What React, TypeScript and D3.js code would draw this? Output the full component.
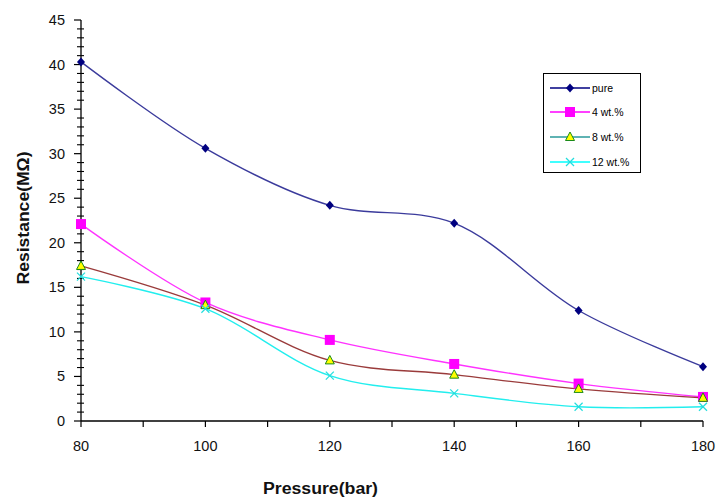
import React from "react";
import * as d3 from "d3";

const pressures = [80, 100, 120, 140, 160, 180];
const pure = [40.3, 30.6, 24.2, 22.2, 12.4, 6.1];
const wt4 = [22.1, 13.3, 9.1, 6.4, 4.2, 2.7];
const wt8 = [17.4, 13.0, 6.8, 5.2, 3.6, 2.6];
const wt12 = [16.2, 12.6, 5.1, 3.1, 1.6, 1.6];
const seriesNames = ["pure", "4 wt.%", "8 wt.%", "12 wt.%"];
const xTicks = [80, 100, 120, 140, 160, 180];
const yTicks = [0, 5, 10, 15, 20, 25, 30, 35, 40, 45];

const W = 719, H = 497;
const x = d3.scaleLinear().domain([80, 180]).range([81, 703]);
const y = d3.scaleLinear().domain([0, 45]).range([421, 20]);
const line = d3.line<[number, number]>().x(d => x(d[0])).y(d => y(d[1])).curve(d3.curveCatmullRom.alpha(0.5));

type Series = { name: string; values: number[]; color: string; legendColor: string; marker: string };
const series: Series[] = [
  { name: seriesNames[0], values: pure, color: "#3b3b9c", legendColor: "#000080", marker: "diamond" },
  { name: seriesNames[1], values: wt4, color: "#ff33ff", legendColor: "#ff00ff", marker: "square" },
  { name: seriesNames[2], values: wt8, color: "#9a3b3b", legendColor: "#2a9a9a", marker: "triangle" },
  { name: seriesNames[3], values: wt12, color: "#22eeee", legendColor: "#00ffff", marker: "x" },
];

function Marker({ type, cx, cy }: { type: string; cx: number; cy: number }) {
  if (type === "diamond") {
    return <path d={`M${cx},${cy - 4.5}L${cx + 4},${cy}L${cx},${cy + 4.5}L${cx - 4},${cy}Z`} fill="#000080" />;
  }
  if (type === "square") {
    return <rect x={cx - 5} y={cy - 5} width={10} height={10} fill="#ff00ff" />;
  }
  if (type === "triangle") {
    return <path d={`M${cx},${cy - 5}L${cx + 4.5},${cy + 3.5}L${cx - 4.5},${cy + 3.5}Z`} fill="#ffff00" stroke="#1a8a1a" strokeWidth={1} />;
  }
  return (
    <g stroke="#22dddd" strokeWidth={1.2}>
      <line x1={cx - 4} y1={cy - 4} x2={cx + 4} y2={cy + 4} />
      <line x1={cx - 4} y1={cy + 4} x2={cx + 4} y2={cy - 4} />
    </g>
  );
}

export default function App() {
  const minorY = d3.range(0, 46, 1).filter(v => v % 5 !== 0);
  const minorX = d3.range(90, 180, 20);
  const legendY = [88, 112, 137, 162];
  return (
    <svg width={W} height={H} style={{ position: "absolute", left: 0, top: 0 }} fontFamily="'Liberation Sans', Arial, sans-serif">
      <rect width={W} height={H} fill="#fff" />
      {/* axes */}
      <line x1={x(80)} x2={x(80)} y1={y(45)} y2={y(0)} stroke="#000" strokeWidth={1.3} />
      <line x1={x(80)} x2={x(180)} y1={y(0)} y2={y(0)} stroke="#000" strokeWidth={1.3} />
      {yTicks.map(t => (
        <g key={t}>
          <line x1={x(80) - 7} x2={x(80)} y1={y(t)} y2={y(t)} stroke="#000" strokeWidth={1.2} />
          <text x={65} y={y(t) + 5} textAnchor="end" fontSize={14.5} fill="#111">{t}</text>
        </g>
      ))}
      {minorY.map(t => (
        <line key={t} x1={x(80) - 4} x2={x(80) + 3} y1={y(t)} y2={y(t)} stroke="#000" strokeWidth={1.1} />
      ))}
      {xTicks.map(t => (
        <g key={t}>
          <line x1={x(t)} x2={x(t)} y1={y(0)} y2={y(0) + 6} stroke="#000" strokeWidth={1.2} />
          <text x={x(t)} y={451} textAnchor="middle" fontSize={14.5} fill="#111">{t}</text>
        </g>
      ))}
      {minorX.map(t => (
        <line key={t} x1={x(t)} x2={x(t)} y1={y(0)} y2={y(0) + 6} stroke="#000" strokeWidth={1.2} />
      ))}
      <text x={320.5} y={494} textAnchor="middle" fontSize={16} fontWeight="bold" fill="#111" textLength={115} lengthAdjust="spacingAndGlyphs">Pressure(bar)</text>
      <text transform={`translate(29,218) rotate(-90)`} textAnchor="middle" fontSize={16} fontWeight="bold" fill="#111" textLength={133} lengthAdjust="spacingAndGlyphs">Resistance(MΩ)</text>
      {/* series */}
      {series.map(s => (
        <path key={s.name} d={line(pressures.map((p, i) => [p, s.values[i]]) as [number, number][]) || ""} fill="none" stroke={s.color} strokeWidth={1.4} />
      ))}
      {series.map(s => (
        <g key={s.name + "m"}>
          {pressures.map((p, i) => <Marker key={p} type={s.marker} cx={x(p)} cy={y(s.values[i])} />)}
        </g>
      ))}
      {/* legend */}
      <rect x={543.5} y={73.5} width={97} height={99} fill="#fff" stroke="#000" strokeWidth={1} />
      {series.map((s, i) => (
        <g key={s.name + "l"}>
          <line x1={550} x2={590} y1={legendY[i]} y2={legendY[i]} stroke={s.legendColor} strokeWidth={1.4} />
          <Marker type={s.marker} cx={570} cy={legendY[i]} />
          <text x={592} y={legendY[i] + 4} fontSize={10.5} fill="#000">{s.name}</text>
        </g>
      ))}
    </svg>
  );
}
